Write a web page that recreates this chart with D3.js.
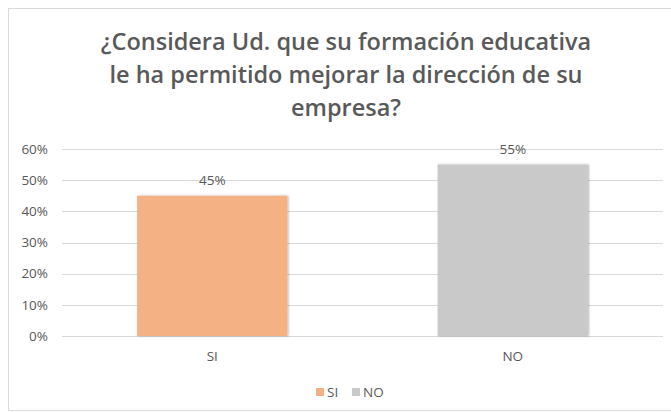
<!DOCTYPE html>
<html><head><meta charset="utf-8">
<script src="https://cdn.jsdelivr.net/npm/d3@7"></script>
<style>body{margin:0;background:#fff;}svg{display:block;font-family:"Open Sans",sans-serif;}</style>
</head><body>
<svg id="c" width="671" height="412"></svg>
<script>
const categories = ["SI", "NO"];
const values = [0.45, 0.55];
const colors = ["#F4B183", "#C9C9C9"];
const yTicks = [0, 0.1, 0.2, 0.3, 0.4, 0.5, 0.6];
const titleLines = ["¿Considera Ud. que su formación educativa", "le ha permitido mejorar la dirección de su", "empresa?"];

const svg = d3.select("#c");
const W = 671, H = 412;
const m = {left: 62, right: 8, top: 149, bottom: 76};

svg.append("rect").attr("x", 8.5).attr("y", 8.5).attr("width", W - 8).attr("height", H - 10)
  .attr("fill", "#fff").attr("stroke", "#D9D9D9").attr("stroke-width", 1);

const defs = svg.append("defs");
const f = defs.append("filter").attr("id", "sh").attr("x", "-10%").attr("y", "-10%").attr("width", "120%").attr("height", "120%");
f.append("feDropShadow").attr("dx", 1).attr("dy", 0).attr("stdDeviation", 1.2).attr("flood-color", "#000").attr("flood-opacity", 0.3);

const x = d3.scaleBand().domain(categories).range([m.left, W - m.right]).paddingInner(0.5).paddingOuter(0.25);
const y = d3.scaleLinear().domain([0, 0.6]).range([H - m.bottom, m.top]);

// title
svg.append("g").selectAll("text").data(titleLines).join("text")
  .attr("x", 346).attr("y", (d, i) => 50 + i * 33)
  .attr("text-anchor", "middle").attr("fill", "#595959")
  .attr("font-size", 23.5).attr("font-weight", 600).text(d => d);

// grid
svg.append("g").selectAll("line").data(yTicks).join("line")
  .attr("x1", m.left).attr("x2", W - m.right)
  .attr("y1", d => Math.round(y(d)) + 0.5).attr("y2", d => Math.round(y(d)) + 0.5)
  .attr("stroke", "#D9D9D9").attr("stroke-width", 1);

// y axis labels
const yAxis = d3.axisLeft(y).tickValues(yTicks).tickFormat(d3.format(".0%")).tickSize(0).tickPadding(0);
const ga = svg.append("g").attr("transform", `translate(${m.left - 14},0)`).call(yAxis);
ga.select(".domain").remove();
ga.selectAll("text").attr("fill", "#595959").attr("font-size", 13.5).attr("font-family", "\"Open Sans\",sans-serif");

// bars
svg.append("g").selectAll("rect").data(values).join("rect")
  .attr("x", (d, i) => x(categories[i])).attr("width", x.bandwidth())
  .attr("y", d => y(d)).attr("height", d => y(0) - y(d))
  .attr("fill", (d, i) => colors[i]).attr("filter", "url(#sh)");

// value labels
svg.append("g").selectAll("text").data(values).join("text")
  .attr("x", (d, i) => x(categories[i]) + x.bandwidth() / 2)
  .attr("y", d => y(d) - 11)
  .attr("text-anchor", "middle").attr("fill", "#595959").attr("font-size", 13.5)
  .text(d => d3.format(".0%")(d));

// x axis labels
const xAxis = d3.axisBottom(x).tickSize(0).tickPadding(0);
const gx = svg.append("g").attr("transform", `translate(0,${y(0) + 15})`).call(xAxis);
gx.select(".domain").remove();
gx.selectAll("text").attr("fill", "#595959").attr("font-size", 13.5).attr("font-family", "\"Open Sans\",sans-serif");

// legend
const lg = svg.append("g");
const legX = [316, 352];
categories.forEach((c, i) => {
  lg.append("rect").attr("x", legX[i]).attr("y", 388).attr("width", 8).attr("height", 8).attr("fill", colors[i]);
  lg.append("text").attr("x", legX[i] + 11).attr("y", 397).attr("fill", "#595959").attr("font-size", 13.5).text(c);
});
</script>
</body></html>
